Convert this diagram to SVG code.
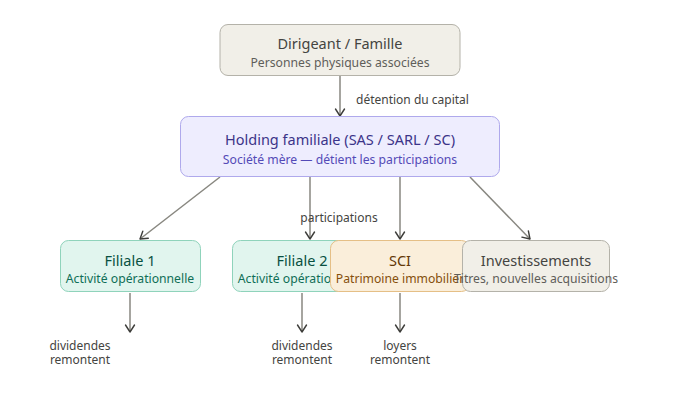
<svg xmlns="http://www.w3.org/2000/svg" width="680" height="400" viewBox="0 0 680 400">
<defs>
<marker id="arr" markerUnits="userSpaceOnUse" markerWidth="12" markerHeight="12" viewBox="0 0 12 12" refX="10" refY="6" orient="auto">
<path d="M3 1.5 L10 6 L3 10.5" fill="none" stroke="#3d3d3a" stroke-width="1.4" stroke-linecap="round" stroke-linejoin="round"/>
</marker>
</defs>
<style>
text{font-family:"Noto Sans","Open Sans","DejaVu Sans",sans-serif;}
.t{font-size:14.5px;text-anchor:middle;}
.s{font-size:12.2px;text-anchor:middle;}
.l{font-size:12px;fill:#444441;}
.c{stroke:#888780;stroke-width:1.5;fill:none;marker-end:url(#arr);}
.gray rect{fill:#f1efe8;stroke:#b4b2a9;}
.gray .t{fill:#444441;}
.gray .s{fill:#5f5e5a;}
.purple rect{fill:#eeedfe;stroke:#afa9ec;}
.purple .t{fill:#3c3489;}
.purple .s{fill:#534ab7;}
.teal rect{fill:#e1f5ee;stroke:#8fd3bb;}
.teal .t{fill:#085041;}
.teal .s{fill:#0f6e56;}
.amber rect{fill:#faeeda;stroke:#e5bf86;}
.amber .t{fill:#633806;}
.amber .s{fill:#854f0b;}
</style>
<g id="connectors">
<line class="c" x1="340" y1="76" x2="340" y2="116"/>
<line class="c" x1="220" y1="177" x2="140" y2="239"/>
<line class="c" x1="310" y1="177" x2="310" y2="239"/>
<line class="c" x1="400" y1="177" x2="400" y2="239"/>
<line class="c" x1="470" y1="177" x2="530" y2="239"/>
<line class="c" x1="130" y1="293" x2="130" y2="332"/>
<line class="c" x1="302" y1="293" x2="302" y2="332"/>
<line class="c" x1="400" y1="293" x2="400" y2="332"/>
<text class="l" x="356" y="104">détention du capital</text>
<text class="l" x="339" y="222" text-anchor="middle">participations</text>
<text class="l" x="80" y="350" text-anchor="middle">dividendes</text>
<text class="l" x="80" y="364" text-anchor="middle">remontent</text>
<text class="l" x="302" y="350" text-anchor="middle">dividendes</text>
<text class="l" x="302" y="364" text-anchor="middle">remontent</text>
<text class="l" x="400" y="350" text-anchor="middle">loyers</text>
<text class="l" x="400" y="364" text-anchor="middle">remontent</text>
</g>
<g id="dirigeant" class="gray">
<rect x="220" y="24.5" width="240" height="51" rx="8"/>
<text class="t" x="340" y="49">Dirigeant / Famille</text>
<text class="s" x="340" y="67">Personnes physiques associées</text>
</g>
<g id="holding" class="purple">
<rect x="180.5" y="116.5" width="319" height="60" rx="8"/>
<text class="t" x="340" y="145">Holding familiale (SAS / SARL / SC)</text>
<text class="s" x="340" y="164">Société mère — détient les participations</text>
</g>
<g id="filiale1" class="teal">
<rect x="60.5" y="240.5" width="140" height="51" rx="8"/>
<text class="t" x="130" y="266">Filiale 1</text>
<text class="s" x="130" y="283">Activité opérationnelle</text>
</g>
<g id="filiale2" class="teal">
<rect x="232.5" y="240.5" width="140" height="51" rx="8"/>
<text class="t" x="302" y="266">Filiale 2</text>
<text class="s" x="302" y="283">Activité opérationnelle</text>
</g>
<g id="sci" class="amber">
<rect x="330.5" y="240.5" width="139" height="51" rx="8"/>
<text class="t" x="400" y="266">SCI</text>
<text class="s" x="400" y="283">Patrimoine immobilier</text>
</g>
<g id="investissements" class="gray">
<rect x="462.5" y="240.5" width="147" height="51" rx="8"/>
<text class="t" x="536" y="266">Investissements</text>
<text class="s" x="536" y="283">Titres, nouvelles acquisitions</text>
</g>
</svg>
